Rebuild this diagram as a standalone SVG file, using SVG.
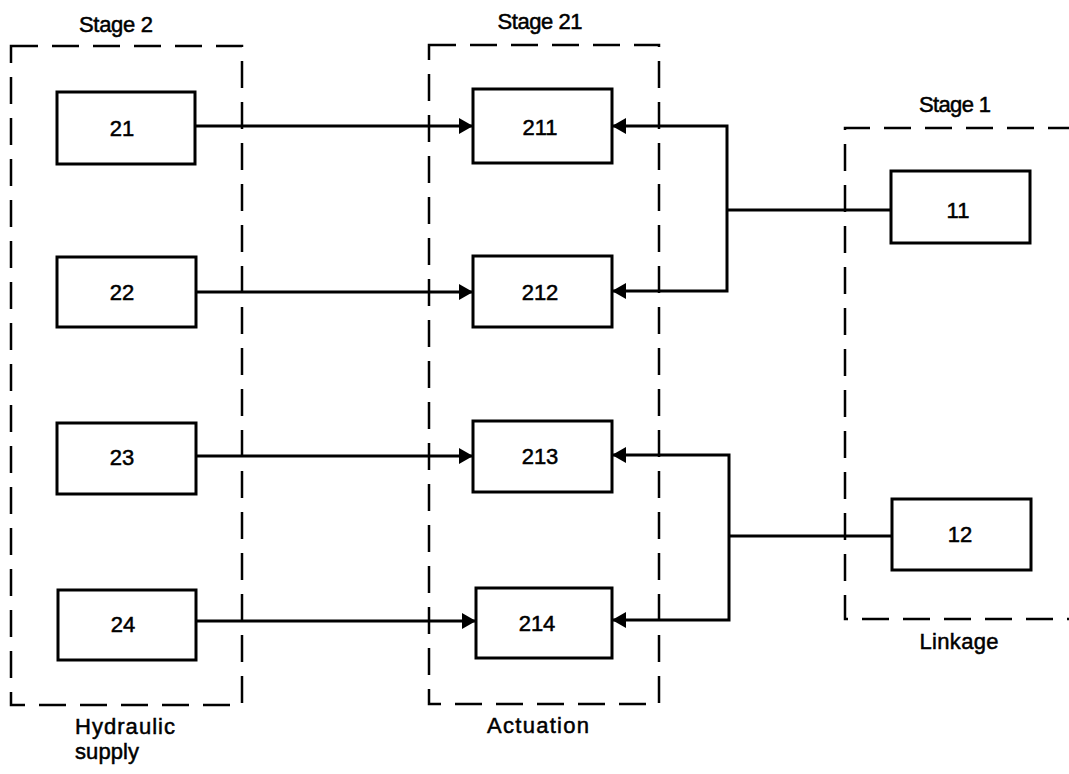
<svg xmlns="http://www.w3.org/2000/svg" width="1069" height="774" viewBox="0 0 1069 774">
<defs>
<style>
.stage{fill:none;stroke:#000;stroke-width:2.5;stroke-dasharray:27 14}
.box{fill:#fff;stroke:#000;stroke-width:3}
.conn{fill:none;stroke:#000;stroke-width:3}
text{font-family:"Liberation Sans",Arial,sans-serif;font-size:22px;fill:#000;stroke:#000;stroke-width:0.5}
.c{text-anchor:middle}
</style>
<marker id="arr" viewBox="0 0 14 16" refX="14" refY="8" markerWidth="14" markerHeight="16" markerUnits="userSpaceOnUse" orient="auto">
<path d="M0,0 L14,8 L0,16 Z" fill="#000"/>
</marker>
</defs>
<rect width="1069" height="774" fill="#fff"/>
<g id="stage2">
<rect class="stage" x="11" y="46" width="231" height="659"/>
<text class="c" x="116" y="32" textLength="74" lengthAdjust="spacing">Stage 2</text>
<text x="75" y="734" textLength="100" lengthAdjust="spacing">Hydraulic</text>
<text x="75" y="759" textLength="64" lengthAdjust="spacing">supply</text>
</g>
<g id="stage21">
<rect class="stage" x="429" y="45" width="230" height="659"/>
<text class="c" x="540" y="29" textLength="85" lengthAdjust="spacing">Stage 21</text>
<text class="c" x="538" y="733" textLength="102" lengthAdjust="spacing">Actuation</text>
</g>
<g id="stage1">
<path class="stage" d="M1075,128 H845 V619 H1075"/>
<text class="c" x="955" y="112" textLength="72" lengthAdjust="spacing">Stage 1</text>
<text class="c" x="959" y="649" textLength="79" lengthAdjust="spacing">Linkage</text>
</g>
<g id="connectors">
<line class="conn" x1="196" y1="126" x2="473" y2="126" marker-end="url(#arr)"/>
<line class="conn" x1="196" y1="292" x2="473" y2="292" marker-end="url(#arr)"/>
<line class="conn" x1="196" y1="456" x2="473" y2="456" marker-end="url(#arr)"/>
<line class="conn" x1="196" y1="621" x2="476" y2="621" marker-end="url(#arr)"/>
<polyline class="conn" points="727,210 727,126 612,126" marker-end="url(#arr)"/>
<polyline class="conn" points="727,210 727,291 612,291" marker-end="url(#arr)"/>
<line class="conn" x1="891" y1="210" x2="726" y2="210"/>
<polyline class="conn" points="729,536 729,455 612,455" marker-end="url(#arr)"/>
<polyline class="conn" points="729,536 729,620 612,620" marker-end="url(#arr)"/>
<line class="conn" x1="892" y1="536" x2="728" y2="536"/>
</g>
<g id="n21"><rect class="box" x="57" y="92" width="138" height="72"/><text class="c" x="122" y="136">21</text></g>
<g id="n22"><rect class="box" x="57" y="257" width="139" height="70"/><text class="c" x="122" y="300">22</text></g>
<g id="n23"><rect class="box" x="57" y="423" width="139" height="71"/><text class="c" x="122" y="465">23</text></g>
<g id="n24"><rect class="box" x="58" y="590" width="138" height="70"/><text class="c" x="123" y="632">24</text></g>
<g id="n211"><rect class="box" x="473" y="89" width="139" height="74"/><text class="c" x="540" y="135">211</text></g>
<g id="n212"><rect class="box" x="473" y="256" width="139" height="71"/><text class="c" x="540" y="300">212</text></g>
<g id="n213"><rect class="box" x="473" y="421" width="139" height="71"/><text class="c" x="540" y="464">213</text></g>
<g id="n214"><rect class="box" x="476" y="588" width="136" height="70"/><text class="c" x="537" y="631">214</text></g>
<g id="n11"><rect class="box" x="891" y="171" width="139" height="72"/><text class="c" x="958" y="218">11</text></g>
<g id="n12"><rect class="box" x="892" y="499" width="139" height="71"/><text class="c" x="960" y="542">12</text></g>
</svg>
